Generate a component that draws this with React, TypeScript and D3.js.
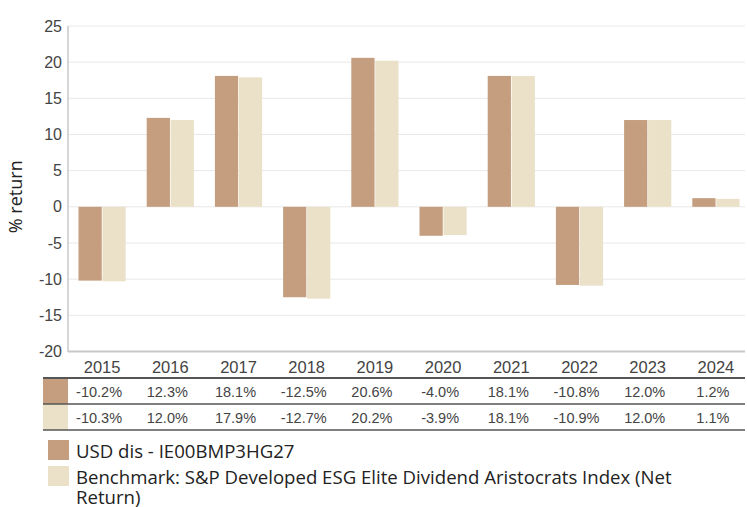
import React from 'react';
import { scaleBand, scaleLinear } from 'd3';

const years = ['2015', '2016', '2017', '2018', '2019', '2020', '2021', '2022', '2023', '2024'];
const fund = [-10.2, 12.3, 18.1, -12.5, 20.6, -4.0, 18.1, -10.8, 12.0, 1.2];
const bench = [-10.3, 12.0, 17.9, -12.7, 20.2, -3.9, 18.1, -10.9, 12.0, 1.1];
const yTicks = [25, 20, 15, 10, 5, 0, -5, -10, -15, -20];
const seriesNames = [
  'USD dis - IE00BMP3HG27',
  'Benchmark: S&P Developed ESG Elite Dividend Aristocrats Index (Net',
  'Return)',
];
const colors = ['#c49e7f', '#ebe1c8'];

const W = 747;
const H = 507;

export default function App() {
  // scales
  const x = scaleBand().domain(years).range([68, 750]);
  const y = scaleLinear().domain([-20, 25]).range([351.5, 26]);
  const inner = scaleBand().domain(['f', 'b']).range([10.5, x.bandwidth() - 10.5]).paddingInner(0.03);

  const axisFont = '"Liberation Sans", Arial, sans-serif';
  const legendFont = '"Open Sans", "Noto Sans", sans-serif';

  const rows = [fund, bench];
  const rowTop = [378, 404];
  const rowH = 26;

  return (
    <svg width={W} height={H} style={{ position: 'absolute', left: 0, top: 0 }}>
      {/* grid */}
      {yTicks.map(t => (
        <line key={t} x1={68} x2={745} y1={y(t)} y2={y(t)} stroke={t === -20 ? '#c8c8c8' : '#e8e8e8'} strokeWidth={t === -20 ? 2 : 1} />
      ))}
      <line x1={68} x2={68} y1={26} y2={352} stroke="#c8c8c8" strokeWidth={1.5} />
      {yTicks.map(t => (
        <text key={t} x={62} y={y(t) + 5.5} textAnchor="end" fontFamily={axisFont} fontSize={16} fill="#444">{t}</text>
      ))}
      <text transform={`translate(22,${y(2.5) + 8}) rotate(-90)`} textAnchor="middle" fontFamily={legendFont} fontSize={18} fill="#222">% return</text>

      {/* bars */}
      {years.map((yr, i) => (
        <g key={yr} transform={`translate(${x(yr)},0)`}>
          {[fund[i], bench[i]].map((v, j) => (
            <rect key={j} x={inner(j === 0 ? 'f' : 'b')} width={inner.bandwidth()} y={Math.min(y(v), y(0))} height={Math.abs(y(v) - y(0))} fill={colors[j]} />
          ))}
        </g>
      ))}

      {/* year labels */}
      {years.map(yr => (
        <text key={yr} x={x(yr)! + x.bandwidth() / 2} y={373} textAnchor="middle" fontFamily={axisFont} fontSize={16.5} fill="#444">{yr}</text>
      ))}

      {/* table */}
      {rows.map((r, k) => (
        <g key={k}>
          <rect x={43} y={rowTop[k]} width={25} height={rowH} fill={colors[k]} />
          {r.map((v, i) => (
            <text key={i} x={x(years[i])! + x.bandwidth() / 2 - 3} y={rowTop[k] + 18.5} textAnchor="middle" fontFamily={axisFont} fontSize={14.5} fill="#444">{v.toFixed(1)}%</text>
          ))}
        </g>
      ))}
      <line x1={43} x2={745} y1={378} y2={378} stroke="#555" strokeWidth={2} />
      <line x1={43} x2={745} y1={404} y2={404} stroke="#555" strokeWidth={1.5} />
      <line x1={43} x2={745} y1={430} y2={430} stroke="#555" strokeWidth={1.5} />

      {/* legend */}
      <rect x={48} y={440} width={21} height={20} fill={colors[0]} />
      <rect x={48} y={466} width={21} height={20} fill={colors[1]} />
      <text x={76} y={458} fontFamily={legendFont} fontSize={18.6} fill="#222">{seriesNames[0]}</text>
      <text x={76} y={484} fontFamily={legendFont} fontSize={18.6} fill="#222">{seriesNames[1]}</text>
      <text x={76} y={504} fontFamily={legendFont} fontSize={18.6} fill="#222">{seriesNames[2]}</text>
    </svg>
  );
}
